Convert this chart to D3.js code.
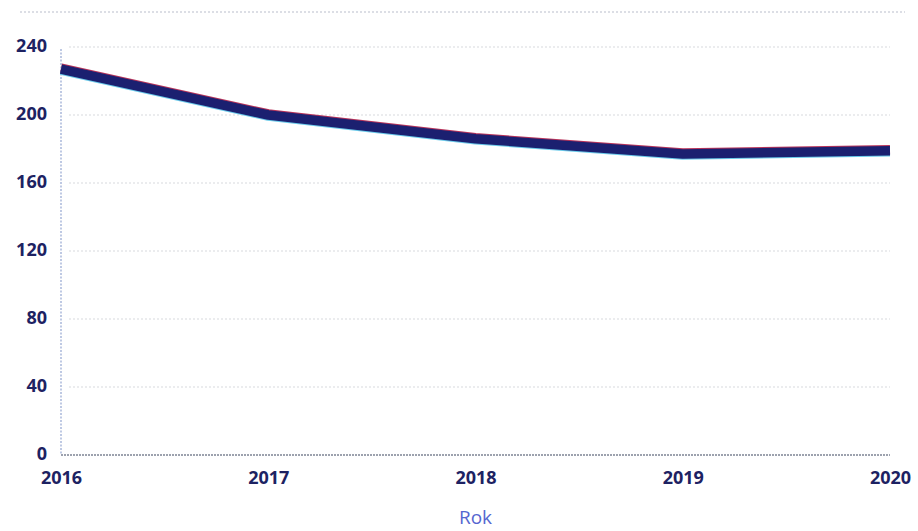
<!DOCTYPE html>
<html>
<head>
<meta charset="utf-8">
<script src="https://cdn.jsdelivr.net/npm/d3@7"></script>
<style>
  html, body { margin: 0; padding: 0; background: #fff; }
  svg { display: block; }
</style>
</head>
<body>
<div id="chart"></div>
<script>
// data
var years = [2016, 2017, 2018, 2019, 2020];
var values = [227, 200, 186, 177, 179];
var yTicks = [0, 40, 80, 120, 160, 200, 240];
var xLabel = "Rok";

var width = 918, height = 531;
var margin = {top: 47, right: 28, bottom: 76, left: 61};

var svg = d3.select("#chart").append("svg")
    .attr("width", width)
    .attr("height", height);

var x = d3.scaleLinear()
    .domain(d3.extent(years))
    .range([margin.left, width - margin.right]);

var y = d3.scaleLinear()
    .domain([0, 240])
    .range([height - margin.bottom, margin.top]);

// faint remnant of the cut-off title line at the top
svg.append("line")
    .attr("x1", 20).attr("x2", 905)
    .attr("y1", 12).attr("y2", 12)
    .attr("stroke", "#dcdee5")
    .attr("stroke-width", 2)
    .attr("stroke-dasharray", "2,2");

// gridlines
svg.append("g")
    .selectAll("line")
    .data(yTicks.filter(d => d > 0))
    .join("line")
    .attr("x1", x(2016) + 8)
    .attr("x2", x(2020))
    .attr("y1", d => y(d))
    .attr("y2", d => y(d))
    .attr("stroke", "#d7d9de")
    .attr("stroke-width", 1.2)
    .attr("stroke-dasharray", "2,2");

// y axis line (dotted, pale blue)
svg.append("line")
    .attr("x1", x(2016)).attr("x2", x(2016))
    .attr("y1", y(240) + 2).attr("y2", y(0))
    .attr("stroke", "#a9b8da")
    .attr("stroke-width", 1.5)
    .attr("stroke-dasharray", "2,1.5");

// x axis line
svg.append("line")
    .attr("x1", x(2016)).attr("x2", x(2020))
    .attr("y1", y(0)).attr("y2", y(0))
    .attr("stroke", "#9da2ae")
    .attr("stroke-width", 2)
    .attr("stroke-dasharray", "2,1");

var labelFont = function (sel) {
    sel.attr("fill", "#1d2262")
        .style("font-family", "'Open Sans', sans-serif")
        .style("font-weight", 700)
        .style("font-size", "18px");
};

// y axis labels
var yAxis = d3.axisLeft(y).tickValues(yTicks).tickSize(0).tickPadding(0);
var gy = svg.append("g")
    .attr("transform", "translate(" + (margin.left - 14) + ",-1)")
    .call(yAxis);
gy.select(".domain").remove();
gy.selectAll("text").call(labelFont);

// x axis labels
var xAxis = d3.axisBottom(x).tickValues(years).tickFormat(d3.format("d")).tickSize(0).tickPadding(0);
var gx = svg.append("g")
    .attr("transform", "translate(0," + (y(0) + 16) + ")")
    .call(xAxis);
gx.select(".domain").remove();
gx.selectAll("text").call(labelFont);

// x axis title
svg.append("text")
    .attr("x", (x(2016) + x(2020)) / 2)
    .attr("y", 524)
    .attr("text-anchor", "middle")
    .attr("fill", "#5566d0")
    .style("font-family", "'Open Sans', sans-serif")
    .style("font-size", "19px")
    .text(xLabel);

// the line, with the faint colour fringes of the scan
var line = d3.line()
    .x((d, i) => x(years[i]))
    .y(d => y(d));

svg.append("path")
    .datum(values)
    .attr("d", line)
    .attr("transform", "translate(0,-1)")
    .attr("fill", "none")
    .attr("stroke", "#b8345a")
    .attr("stroke-width", 9.5)
    .attr("stroke-linejoin", "round");

svg.append("path")
    .datum(values)
    .attr("d", line)
    .attr("transform", "translate(0,1)")
    .attr("fill", "none")
    .attr("stroke", "#6ccbea")
    .attr("stroke-width", 9.5)
    .attr("stroke-linejoin", "round");

svg.append("path")
    .datum(values)
    .attr("d", line)
    .attr("fill", "none")
    .attr("stroke", "#1b2070")
    .attr("stroke-width", 9.5)
    .attr("stroke-linejoin", "round");
</script>
</body>
</html>
